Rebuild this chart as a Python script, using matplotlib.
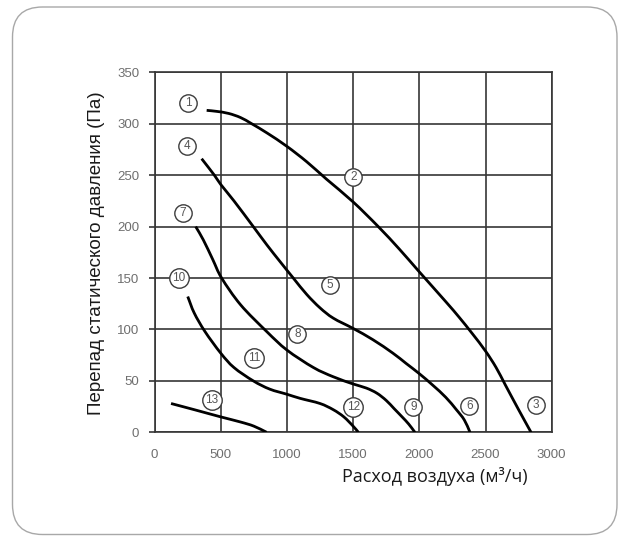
import matplotlib
matplotlib.use("Agg")
import matplotlib.pyplot as plt
import numpy as np
from matplotlib.patches import FancyBboxPatch, PathPatch
from matplotlib.path import Path

# Fan performance curves: air flow (m³/h) vs static pressure drop (Pa)
curve_a_x = [394, 470, 560, 650, 734, 850, 1000, 1150, 1300, 1500, 1690, 1850, 2000, 2200, 2300, 2400, 2500, 2580, 2650, 2750, 2844]
curve_a_y = [313, 312, 310, 306, 300, 291, 278, 263, 246, 224, 200, 178, 156, 127, 112, 96, 79, 63, 46, 22, 0]

curve_b_x = [356, 452, 500, 600, 746, 850, 948, 1048, 1150, 1250, 1350, 1500, 1650, 1800, 1900, 2000, 2100, 2200, 2280, 2340, 2383]
curve_b_y = [266, 250, 241, 225, 200, 182, 166, 150, 134, 121, 111, 101, 90, 77, 67, 57, 46, 34, 22, 12, 0]

curve_c_x = [311, 369, 440, 507, 650, 847, 1000, 1200, 1350, 1500, 1600, 1680, 1750, 1810, 1870, 1920, 1967]
curve_c_y = [200, 187, 168, 150, 124, 98, 80, 63, 54, 47, 43, 38, 31, 23, 15, 8, 0]

curve_d_x = [251, 300, 381, 500, 600, 746, 870, 1000, 1100, 1250, 1350, 1430, 1500, 1540]
curve_d_y = [132, 116, 98, 77, 63, 50, 42, 37, 33, 28, 22, 15, 6, 0]

curve_e_x = [125, 300, 500, 650, 750, 847]
curve_e_y = [28, 22, 15, 10, 6, 0]

label_text = ["1", "2", "3", "4", "5", "6", "7", "8", "9", "10", "11", "12", "13"]
label_x = [255, 1502, 2879, 248, 1325, 2378, 213, 1079, 1955, 185, 754, 1502, 432]
label_y = [320, 248, 27, 278, 143, 26, 213, 96, 25, 150, 72, 25, 31]

x_ticks = [0, 500, 1000, 1500, 2000, 2500, 3000]
y_ticks = [0, 50, 100, 150, 200, 250, 300, 350]

xlabel = "Расход воздуха (м³/ч)"
ylabel = "Перепад статического давления (Па)"


def smooth_path(xs, ys):
    """Catmull-Rom through the given points, expressed as cubic Bezier segments."""
    p = np.column_stack([xs, ys]).astype(float)
    ext = np.vstack([2 * p[0] - p[1], p, 2 * p[-1] - p[-2]])
    verts = [tuple(p[0])]
    codes = [Path.MOVETO]
    for i in range(1, len(ext) - 2):
        p0, p1, p2, p3 = ext[i - 1], ext[i], ext[i + 1], ext[i + 2]
        c1 = p1 + (p2 - p0) / 6.0
        c2 = p2 - (p3 - p1) / 6.0
        verts += [tuple(c1), tuple(c2), tuple(p2)]
        codes += [Path.CURVE4] * 3
    return Path(verts, codes)


W, H = 621, 536
fig = plt.figure(figsize=(W / 100, H / 100), dpi=100)
fig.patch.set_facecolor("white")

# rounded frame around the whole card
bg = fig.add_axes([0, 0, 1, 1], zorder=-5)
bg.set_xlim(0, W)
bg.set_ylim(H, 0)
bg.axis("off")
bg.add_patch(FancyBboxPatch((12.5, 7), 604.5, 527.5,
                            boxstyle="round,pad=0,rounding_size=30",
                            fc="white", ec="#a8a8a8", lw=1.0))

ax = fig.add_axes([154.5 / W, 1 - 432.3 / H, (551.7 - 154.5) / W, 360 / H])
ax.set_facecolor("none")
ax.set_xlim(0, 3000)
ax.set_ylim(0, 350)
ax.set_xticks(x_ticks)
ax.set_yticks(y_ticks)

grid_c = "#363636"
ax.grid(True, color=grid_c, lw=1.2, zorder=1)
for s in ax.spines.values():
    s.set_color(grid_c)
    s.set_linewidth(1.2)

ax.tick_params(axis="y", direction="out", length=4, width=1.2, color=grid_c,
               labelcolor="#6e6e6e", pad=7)
ax.tick_params(axis="x", length=0, labelcolor="#6e6e6e", pad=12)
for lab in ax.get_xticklabels() + ax.get_yticklabels():
    lab.set_fontfamily("Liberation Sans")
    lab.set_fontsize(9.5)

for cx, cy in [(curve_a_x, curve_a_y), (curve_b_x, curve_b_y), (curve_c_x, curve_c_y),
               (curve_d_x, curve_d_y), (curve_e_x, curve_e_y)]:
    ax.add_patch(PathPatch(smooth_path(cx, cy), fc="none", ec="black", lw=2.0,
                           capstyle="butt", zorder=3))

for t, lx, ly in zip(label_text, label_x, label_y):
    ms = 12.5 if len(t) == 1 else 14.0
    ax.plot(lx, ly, marker="o", ms=ms, mfc="white", mec="#3c3c3c", mew=1.0,
            zorder=4, clip_on=False)
    ax.text(lx, ly, t, ha="center", va="center", fontsize=8.5, color="#555555",
            family="Liberation Sans", zorder=5)

fig.text(528 / W, 1 - 477 / H, xlabel, ha="right", va="center",
         fontsize=13, family="Open Sans", color="#1a1a1a")
fig.text(97 / W, 1 - 253 / H, ylabel, ha="center", va="center", rotation=90,
         fontsize=13.5, family="Liberation Sans", color="#1a1a1a")

fig.savefig("out.png", dpi=100, facecolor="white")
